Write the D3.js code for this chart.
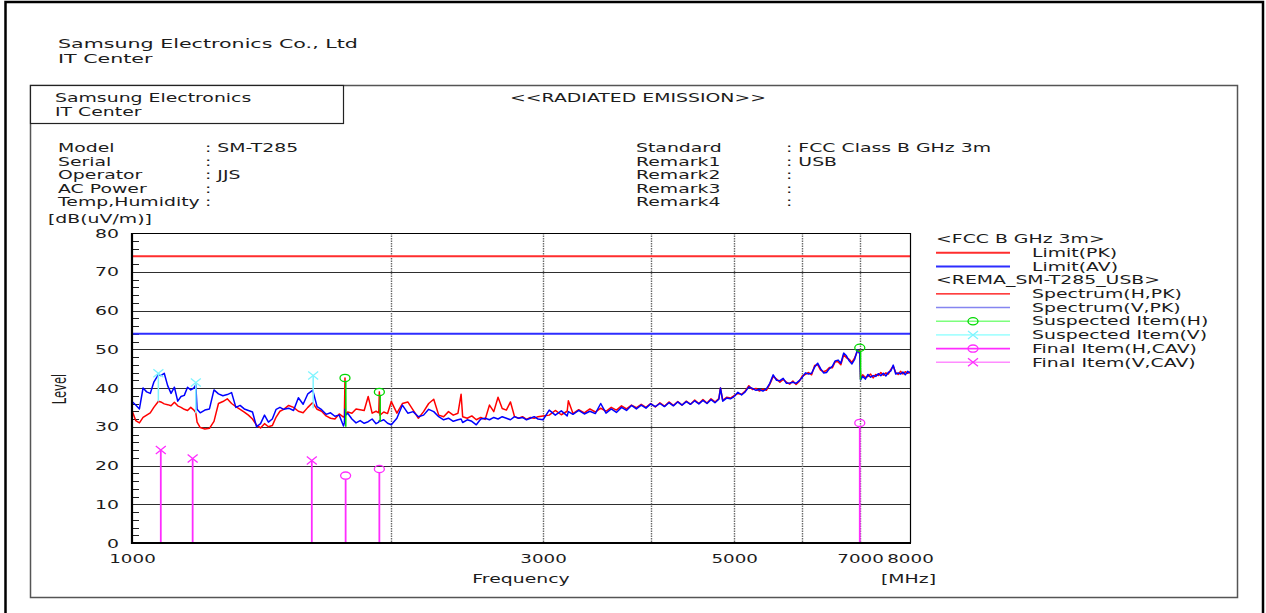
<!DOCTYPE html>
<html>
<head>
<meta charset="utf-8">
<script src="https://cdn.jsdelivr.net/npm/d3@7"></script>
<style>
  html, body { margin: 0; padding: 0; background: #fff; }
  svg text { font-family: "DejaVu Sans", sans-serif; fill: #1c1c1c; }
</style>
</head>
<body>
<svg id="chart" width="1266" height="613"></svg>
<script>
// ---- measurement sweep: frequency points [MHz] shared by both polarisations ----
const freqMHz = [
  1000,1010,1020,1030,1040,1050,1060,1070,1073,1080,
  1090,1100,1110,1120,1130,1140,1150,1160,1170,1180,
  1186,1190,1200,1215,1230,1245,1260,1275,1290,1305,
  1320,1335,1350,1365,1380,1395,1410,1425,1440,1455,
  1470,1485,1500,1520,1540,1560,1580,1600,1620,1623,
  1640,1660,1680,1700,1720,1740,1760,1764,1767,1770,
  1780,1800,1820,1840,1860,1880,1900,1920,1934,1937,
  1940,1960,1980,2000,
  2030,2060,2090,2120,2150,2180,2210,2240,2270,2300,
  2330,2360,2390,2410,2420,2450,2480,2510,2540,2570,
  2600,2630,2660,2690,2720,2750,2780,2810,2840,2870,
  2900,2930,2960,3000,
  3050,3100,3150,3200,3210,3250,3300,3350,3400,3450,
  3500,3550,3600,3650,3700,3750,3800,3850,3900,3950,
  4000,4050,4100,4150,4200,4250,4300,4350,4400,4450,
  4500,4550,4600,4650,4700,4750,4800,4820,4850,4900,
  4950,
  5000,5050,5100,5150,5200,5250,5300,5350,5400,5450,
  5500,5550,5600,5650,5700,5750,5800,5850,5900,5950,
  6000,6050,6100,6150,6200,6250,6300,6350,6400,6450,
  6500,6550,6600,6650,6700,6750,6800,6850,6900,6950,
  6995,7010,
  7050,7100,7150,7200,7250,7300,7350,7400,7450,7500,
  7550,7600,7650,7700,7750,7800,7850,7900,7950,8000
];

// Spectrum(H,PK) [dB(uV/m)]
const spectrumH = [
  34.2,31.6,31.0,32.4,33.0,33.6,35.0,36.2,36.6,36.4,
  35.9,35.7,35.4,36.3,35.4,35.0,34.5,34.2,35.0,34.3,
  33.6,31.2,29.8,29.4,29.6,31.4,36.0,36.5,37.2,36.0,
  35.2,34.5,33.8,33.0,32.0,30.4,29.7,30.8,30.0,30.3,
  32.5,34.0,34.5,35.5,35.0,34.0,33.6,35.0,36.2,36.0,
  34.5,34.0,32.8,32.2,32.0,33.3,32.5,32.6,42.6,33.2,
  33.8,33.5,34.6,34.4,34.2,37.8,33.5,34.0,33.6,39.0,
  33.0,33.8,33.4,36.5,
  33.5,36.0,36.4,34.3,32.2,33.9,36.0,37.1,33.0,32.6,
  33.9,33.0,33.5,38.4,32.6,32.2,32.8,31.8,32.4,31.9,
  35.6,33.9,37.6,34.7,34.3,36.4,32.6,32.2,32.6,31.9,
  32.4,32.2,32.6,32.8,
  33.0,34.2,33.1,34.0,36.7,33.4,34.4,33.6,34.6,33.8,
  34.8,34.0,35.0,34.3,35.4,34.6,35.6,34.9,35.8,35.0,
  36.0,35.1,36.2,35.3,36.4,35.5,36.5,35.6,36.6,35.8,
  36.9,36.0,37.0,36.1,37.2,36.4,37.3,40.0,36.8,37.6,
  37.4,
  38.0,38.6,38.4,39.2,40.6,39.6,39.9,39.2,39.7,39.4,
  41.0,43.0,42.3,41.5,42.2,41.5,41.0,41.8,40.9,41.7,
  43.1,43.5,44.0,43.4,45.8,46.0,44.6,44.2,44.5,45.3,
  45.2,46.8,46.8,46.0,48.6,47.8,47.4,46.6,47.8,49.4,
  49.6,42.4,
  43.4,42.7,43.0,43.6,42.6,43.5,43.2,44.0,43.3,43.9,
  43.6,44.8,45.6,44.0,43.5,44.3,43.6,44.2,43.8,44.2
];

// Spectrum(V,PK) [dB(uV/m)]
const spectrumV = [
  36.5,35.6,34.6,40.0,39.0,38.6,41.5,43.0,43.6,43.2,
  43.8,40.6,38.6,40.2,36.6,37.8,38.1,40.2,39.5,40.0,
  40.8,34.5,33.6,34.3,34.6,39.5,38.5,38.0,38.3,38.8,
  35.0,35.5,34.6,34.2,33.8,30.0,30.8,33.0,31.2,32.0,
  34.5,35.0,34.5,34.8,34.2,37.5,35.8,38.5,39.4,39.0,
  35.2,34.4,33.2,33.6,32.7,33.0,30.2,31.0,34.5,33.0,
  33.5,32.0,31.0,31.6,30.9,31.3,32.0,30.8,31.2,31.6,
  31.4,31.8,30.9,30.5,
  32.2,35.6,33.5,33.9,32.6,33.0,34.5,33.9,32.6,31.8,
  32.2,31.4,31.8,32.0,31.1,31.8,31.4,30.5,32.0,32.2,
  31.8,32.4,32.0,32.6,32.2,31.8,32.6,32.2,32.4,31.8,
  32.2,32.6,32.0,31.8,
  34.3,33.0,34.1,32.8,33.9,33.2,34.2,33.3,34.0,33.4,
  36.0,33.5,34.6,33.7,35.0,34.2,35.5,34.6,35.6,34.8,
  35.9,35.2,36.0,35.2,36.2,35.4,36.4,35.6,36.5,35.8,
  36.7,35.9,36.8,36.0,37.0,36.2,37.1,40.0,36.6,37.4,
  37.2,
  37.8,38.9,38.2,39.0,40.3,39.9,39.4,39.6,39.2,39.8,
  41.2,43.4,42.0,41.9,42.5,41.2,41.3,41.5,41.2,41.9,
  42.8,43.9,43.6,43.8,45.4,46.4,45.0,43.9,44.0,45.0,
  45.6,47.0,47.2,46.4,49.0,48.3,47.0,46.2,47.4,49.8,
  48.8,42.1,
  43.0,42.3,43.5,42.8,43.2,43.0,43.7,43.2,43.8,43.1,
  44.0,44.4,45.9,43.6,43.9,43.6,44.1,43.4,44.3,43.8
];

// FCC Class B (above 1 GHz, 3 m) limits
const limitFreq = [1000, 8000];
const limitPK = [74, 74];
const limitAV = [54, 54];

// Suspected items (peak picks) with the foot of their marker stem
const suspectedHFreq  = [1767, 1937, 6995];
const suspectedHLevel = [42.6, 39.0, 50.4];
const suspectedHFoot  = [30.0, 31.3, 42.1];
const suspectedVFreq  = [1073, 1186, 1623];
const suspectedVLevel = [43.8, 41.4, 43.2];
const suspectedVFoot  = [36.5, 33.5, 34.8];

// Final items (CAV detector)
const finalHFreq  = [1770, 1937, 6995];
const finalHLevel = [17.4, 19.1, 31.0];
const finalVFreq  = [1080, 1176, 1617];
const finalVLevel = [24.0, 21.8, 21.3];

// Axis ticks
const yTicks = [0, 10, 20, 30, 40, 50, 60, 70, 80];
const yMinorTicks = d3.range(0, 81, 2).filter(v => v % 10 !== 0);
const xTickLabels = [1000, 3000, 5000, 7000, 8000];
const xGridFreq = [2000, 3000, 4000, 5000, 6000, 7000];

// Header information
const infoLeftKeys = ["Model", "Serial", "Operator", "AC Power", "Temp,Humidity"];
const infoLeftVals = [": SM-T285", ":", ": JJS", ":", ":"];
const infoRightKeys = ["Standard", "Remark1", "Remark2", "Remark3", "Remark4"];
const infoRightVals = [": FCC Class B GHz 3m", ": USB", ":", ":", ":"];

// Legend
const legendLabels = [
  "<FCC B GHz 3m>", "Limit(PK)", "Limit(AV)", "<REMA_SM-T285_USB>",
  "Spectrum(H,PK)", "Spectrum(V,PK)", "Suspected Item(H)", "Suspected Item(V)",
  "Final Item(H,CAV)", "Final Item(V,CAV)"
];

// ---------------------------------------------------------------------------
const svg = d3.select("#chart");
const P = { left: 132, right: 910, top: 233, bottom: 543 };
const x = d3.scaleLog().domain([1000, 8000]).range([P.left, P.right]);
const y = d3.scaleLinear().domain([0, 80]).range([P.bottom, P.top]);

const FS = 11.5;   // body text size
const SX = 1.64;   // wide horizontal glyph proportion of the report font

const COLORS = {
  limitPK: "#ff2d2d", limitAV: "#2d2dff",
  specH: "#ff0000", specV: "#0000ff", specVLegend: "#8585f0",
  suspH: "#00d800", suspHLine: "#7dff7d",
  suspV: "#7ff4ff", suspVLine: "#a8ffff",
  finalH: "#ff2cff", finalV: "#ff2cff", finalVLine: "#ff8cff"
};

function label(parent, px, py, s, o = {}) {
  return parent.append("text")
    .attr("transform", `translate(${px},${py}) scale(${o.sx || SX},1)`)
    .attr("font-size", o.size || FS)
    .attr("text-anchor", o.anchor || "start")
    .text(s);
}

// ---- page frames ----
svg.append("path")
  .attr("d", "M5.5,613V2H1263V613")
  .attr("fill", "none").attr("stroke", "#000").attr("stroke-width", 2.5);
svg.append("rect")
  .attr("x", 30.5).attr("y", 85.5).attr("width", 1207).attr("height", 512)
  .attr("fill", "none").attr("stroke", "#555").attr("stroke-width", 1.5);
svg.append("rect")
  .attr("x", 30.5).attr("y", 85.5).attr("width", 313).attr("height", 38)
  .attr("fill", "#fff").attr("stroke", "#222").attr("stroke-width", 1.2);

// ---- header texts ----
label(svg, 58, 47.5, "Samsung Electronics Co., Ltd", { size: 12.8, sx: 1.61 });
label(svg, 58, 62.5, "IT Center", { size: 12.8, sx: 1.61 });
label(svg, 55, 102, "Samsung Electronics");
label(svg, 55, 115.5, "IT Center");
label(svg, 510, 102, "<<RADIATED EMISSION>>");

const rowY = i => 152 + i * 13.5;
infoLeftKeys.forEach((k, i) => label(svg, 58, rowY(i), k));
infoLeftVals.forEach((v, i) => label(svg, 205, rowY(i), v));
infoRightKeys.forEach((k, i) => label(svg, 636, rowY(i), k));
infoRightVals.forEach((v, i) => label(svg, 786, rowY(i), v));

label(svg, 48, 223, "[dB(uV/m)]");

// ---- plot area ----
const plot = svg.append("g");
plot.append("defs").append("clipPath").attr("id", "clip")
  .append("rect").attr("x", P.left).attr("y", P.top - 1)
  .attr("width", P.right - P.left).attr("height", P.bottom - P.top + 1);

// horizontal grid
plot.selectAll("line.hgrid").data(yTicks.filter(v => v > 0 && v < 80)).join("line")
  .attr("class", "hgrid")
  .attr("x1", P.left).attr("x2", P.right)
  .attr("y1", d => Math.round(y(d)) + 0.5).attr("y2", d => Math.round(y(d)) + 0.5)
  .attr("stroke", "#2e2e2e").attr("stroke-width", 1.1);

// vertical grid (dotted)
plot.selectAll("line.vgrid").data(xGridFreq).join("line")
  .attr("class", "vgrid")
  .attr("x1", d => Math.round(x(d)) + 0.5).attr("x2", d => Math.round(x(d)) + 0.5)
  .attr("y1", P.top).attr("y2", P.bottom)
  .attr("stroke", "#6a6a6a").attr("stroke-width", 1.4).attr("stroke-dasharray", "1.5,1");

// minor ticks on the level axis
plot.selectAll("line.minor").data(yMinorTicks).join("line")
  .attr("class", "minor")
  .attr("x1", P.left).attr("x2", P.left + 7)
  .attr("y1", d => Math.round(y(d)) + 0.5).attr("y2", d => Math.round(y(d)) + 0.5)
  .attr("stroke", "#222").attr("stroke-width", 1);

// limit lines
const limitLine = d3.line().x(d => x(d[0])).y(d => y(d[1]));
plot.append("path").datum(d3.zip(limitFreq, limitPK))
  .attr("d", limitLine).attr("fill", "none")
  .attr("stroke", COLORS.limitPK).attr("stroke-width", 2);
plot.append("path").datum(d3.zip(limitFreq, limitAV))
  .attr("d", limitLine).attr("fill", "none")
  .attr("stroke", COLORS.limitAV).attr("stroke-width", 2);

const marks = plot.append("g").attr("clip-path", "url(#clip)");

// final item stems (down to 0 dB)
const finalH = d3.zip(finalHFreq, finalHLevel);
const finalV = d3.zip(finalVFreq, finalVLevel);
marks.selectAll("line.fstemH").data(finalH).join("line")
  .attr("x1", d => x(d[0])).attr("x2", d => x(d[0]))
  .attr("y1", d => y(d[1]) + 3.6).attr("y2", y(0))
  .attr("stroke", COLORS.finalH).attr("stroke-width", 1.8);
marks.selectAll("line.fstemV").data(finalV).join("line")
  .attr("x1", d => x(d[0])).attr("x2", d => x(d[0]))
  .attr("y1", d => y(d[1])).attr("y2", y(0))
  .attr("stroke", COLORS.finalV).attr("stroke-width", 1.8);

// spectra
const spec = d3.line().x(d => x(d[0])).y(d => y(d[1]));
marks.append("path").datum(d3.zip(freqMHz, spectrumH))
  .attr("d", spec).attr("fill", "none")
  .attr("stroke", COLORS.specH).attr("stroke-width", 1.5).attr("stroke-linejoin", "round");
marks.append("path").datum(d3.zip(freqMHz, spectrumV))
  .attr("d", spec).attr("fill", "none")
  .attr("stroke", COLORS.specV).attr("stroke-width", 1.5).attr("stroke-linejoin", "round");

// suspected item stems
const suspH = d3.zip(suspectedHFreq, suspectedHLevel, suspectedHFoot);
const suspV = d3.zip(suspectedVFreq, suspectedVLevel, suspectedVFoot);
marks.selectAll("line.sstemH").data(suspH).join("line")
  .attr("x1", d => x(d[0]) + 0.8).attr("x2", d => x(d[0]) + 0.8)
  .attr("y1", d => y(d[1]) + 3.6).attr("y2", d => y(d[2]))
  .attr("stroke", COLORS.suspH).attr("stroke-width", 1.5);
marks.selectAll("line.sstemV").data(suspV).join("line")
  .attr("x1", d => x(d[0])).attr("x2", d => x(d[0]))
  .attr("y1", d => y(d[1])).attr("y2", d => y(d[2]))
  .attr("stroke", COLORS.suspV).attr("stroke-width", 1.5);

// marker shapes
function ring(g, cx, cy, color) {
  g.append("ellipse").attr("cx", cx).attr("cy", cy).attr("rx", 5).attr("ry", 3.6)
    .attr("fill", "none").attr("stroke", color).attr("stroke-width", 1.3);
}
function cross(g, cx, cy, color) {
  g.append("path")
    .attr("d", `M${cx - 5},${cy - 4}L${cx + 5},${cy + 4}M${cx - 5},${cy + 4}L${cx + 5},${cy - 4}`)
    .attr("fill", "none").attr("stroke", color).attr("stroke-width", 1.3);
}
const markerLayer = plot.append("g");
suspH.forEach(d => ring(markerLayer, x(d[0]), y(d[1]), COLORS.suspH));
suspV.forEach(d => cross(markerLayer, x(d[0]), y(d[1]), COLORS.suspV));
finalH.forEach(d => ring(markerLayer, x(d[0]), y(d[1]), COLORS.finalH));
finalV.forEach(d => cross(markerLayer, x(d[0]), y(d[1]), COLORS.finalV));

// plot frame: thin top/right, heavy left/bottom
plot.append("path").attr("d", `M${P.left},${P.top + 0.5}H${P.right + 0.5}V${P.bottom}`)
  .attr("fill", "none").attr("stroke", "#000").attr("stroke-width", 1.2);
plot.append("path").attr("d", `M${P.left},${P.top}V${P.bottom}H${P.right + 1}`)
  .attr("fill", "none").attr("stroke", "#000").attr("stroke-width", 2.2);

// ---- axes (labels) ----
const gy = svg.append("g").attr("transform", `translate(${P.left},0)`)
  .call(d3.axisLeft(y).tickValues(yTicks).tickSize(0).tickFormat(d3.format("d")));
gy.attr("font-size", FS);
gy.select(".domain").remove();
gy.selectAll("text").attr("x", -13 / SX).attr("dy", "0.36em")
  .attr("transform", `scale(${SX},1)`);

const gx = svg.append("g").attr("transform", `translate(0,${P.bottom})`)
  .call(d3.axisBottom(x).tickValues(xTickLabels).tickSize(0).tickFormat(d3.format("d")));
gx.attr("font-size", FS);
gx.select(".domain").remove();
gx.selectAll("text").attr("y", 20).attr("dy", 0)
  .attr("transform", `scale(${SX * 0.97},1)`);

label(svg, 521, 583, "Frequency", { anchor: "middle" });
label(svg, 881, 583, "[MHz]");
svg.append("text")
  .attr("transform", `translate(66,389) rotate(-90) scale(1,${SX})`)
  .attr("font-size", FS).attr("text-anchor", "middle").text("Level");

// ---- legend ----
const lg = svg.append("g");
const rowC = i => 239 + i * 13.7;
const sample = { x1: 936, x2: 1010, mid: 973 };
label(lg, 936, rowC(0) + 4.2, legendLabels[0]);
label(lg, 936, rowC(3) + 4.2, legendLabels[3]);
[1, 2, 4, 5, 6, 7, 8, 9].forEach(i => label(lg, 1032, rowC(i) + 4.2, legendLabels[i]));

const legendLines = [
  { row: 1, color: COLORS.limitPK, w: 2 },
  { row: 2, color: COLORS.limitAV, w: 2 },
  { row: 4, color: COLORS.specH, w: 1.2 },
  { row: 5, color: COLORS.specVLegend, w: 1.6 },
  { row: 6, color: COLORS.suspHLine, w: 1.6 },
  { row: 7, color: COLORS.suspVLine, w: 1.6 },
  { row: 8, color: COLORS.finalH, w: 1.6 },
  { row: 9, color: COLORS.finalVLine, w: 1.6 }
];
lg.selectAll("line.ls").data(legendLines).join("line")
  .attr("x1", sample.x1).attr("x2", sample.x2)
  .attr("y1", d => rowC(d.row)).attr("y2", d => rowC(d.row))
  .attr("stroke", d => d.color).attr("stroke-width", d => d.w);
ring(lg, sample.mid, rowC(6), COLORS.suspH);
cross(lg, sample.mid, rowC(7), COLORS.suspV);
ring(lg, sample.mid, rowC(8), COLORS.finalH);
cross(lg, sample.mid, rowC(9), COLORS.finalV);
</script>
</body>
</html>
